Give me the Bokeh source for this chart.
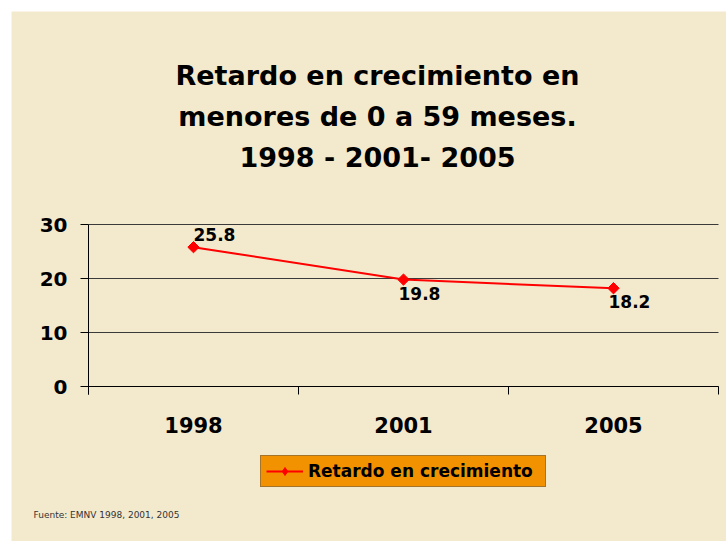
from bokeh.plotting import figure
from bokeh.models import (Range1d, FixedTicker, Label, Legend, LegendItem, Spacer)
from bokeh.layouts import column, row
from bokeh.embed import file_html
from bokeh.resources import INLINE
import math

# ---- data ----
years = ["1998", "2001", "2005"]
retardo = [25.8, 19.8, 18.2]
y_ticks = [0, 10, 20, 30]
series_name = "Retardo en crecimiento"
title_lines = ["Retardo en crecimiento en", "menores de 0 a 59 meses.", "1998 - 2001- 2005"]
source_note = "Fuente: EMNV 1998, 2001, 2005"

BG = "#F3E9CD"
FONT = "DejaVu Sans"

# ---- geometry (canvas pixels) ----
W, H = 715, 530
PLOT_L, PLOT_R = 77, 707          # x of first / last category boundary
PLOT_T, PLOT_B = 213, 375         # y (from top) of 30 and 0
n = len(years)
ymax = y_ticks[-1]
px_x = (PLOT_R - PLOT_L) / n
px_y = (PLOT_B - PLOT_T) / ymax

xs = [i + 0.5 for i in range(n)]

p = figure(width=W, height=H, output_backend="svg", toolbar_location=None,
           x_range=Range1d(-PLOT_L / px_x, n + (W - PLOT_R) / px_x),
           y_range=Range1d(-(H - PLOT_B) / px_y, ymax + PLOT_T / px_y),
           min_border=0, min_border_left=0, min_border_right=0,
           min_border_top=0, min_border_bottom=0)
p.background_fill_color = BG
p.border_fill_color = BG
p.outline_line_color = None
p.title.text = ""
p.title.visible = False
p.xgrid.visible = False
p.ygrid.visible = False

# horizontal gridlines across the category span
p.segment(x0=[0] * len(y_ticks), x1=[n] * len(y_ticks), y0=y_ticks, y1=y_ticks,
          line_color="#3a3a3a", line_width=1)

# series
line_r = p.line(xs, retardo, line_color="#FF0000", line_width=2)
pts_r = p.scatter(xs, retardo, marker="square", size=8, angle=math.pi / 4,
                  fill_color="#FF0000", line_color="#FF0000")
# diamond glyph used only for the legend swatch
legend_pts = p.scatter(xs, retardo, marker="diamond", size=18,
                       fill_color="#FF0000", line_color="#FF0000", visible=False)

# value labels
placement = ["above", "below", "below"]
for x, v, pl in zip(xs, retardo, placement):
    lab = Label(x=x, y=v, text=f"{v:.1f}", text_font=FONT, text_font_size="17px",
                text_font_style="bold", text_color="black")
    if pl == "above":
        lab.text_baseline = "bottom"
        lab.x_offset = 0
        lab.y_offset = 6
    else:
        lab.text_baseline = "top"
        lab.x_offset = -5
        lab.y_offset = -7
    p.add_layout(lab)

# x axis (at y = 0)
xa = p.xaxis[0]
xa.fixed_location = 0
xa.bounds = (0, n)
xa.ticker = FixedTicker(ticks=xs, minor_ticks=list(range(n + 1)))
xa.major_label_overrides = {x: y for x, y in zip(xs, years)}
xa.major_tick_line_color = None
xa.major_tick_out = 0
xa.major_tick_in = 0
xa.minor_tick_out = 8
xa.minor_tick_in = 0
xa.minor_tick_line_color = "black"
xa.axis_line_color = "black"
xa.major_label_standoff = 22
xa.major_label_text_font = FONT
xa.major_label_text_font_size = "21px"
xa.major_label_text_font_style = "bold"
xa.major_label_text_color = "black"

# y axis (at x = 0)
ya = p.yaxis[0]
ya.fixed_location = 0
ya.bounds = (-8 / px_y, ymax)
ya.ticker = FixedTicker(ticks=y_ticks)
ya.major_tick_out = 8
ya.major_tick_in = 0
ya.minor_tick_line_color = None
ya.major_tick_line_color = "black"
ya.axis_line_color = "black"
ya.major_label_standoff = 13
ya.major_label_text_font = FONT
ya.major_label_text_font_size = "20px"
ya.major_label_text_font_style = "bold"
ya.major_label_text_color = "black"

# title (three centred lines)
title_cx = 366
title_baselines = [466, 425, 384]
for t, yb in zip(title_lines, title_baselines):
    p.add_layout(Label(x=title_cx, y=yb, x_units="screen", y_units="screen", text=t,
                       text_align="center", text_baseline="alphabetic", text_font=FONT,
                       text_font_size="27px", text_font_style="bold", text_color="black"))

# legend
legend = Legend(items=[LegendItem(label=series_name, renderers=[line_r, legend_pts])],
                location=(249, 54), orientation="vertical",
                background_fill_color="#F39200", background_fill_alpha=1,
                border_line_color="#555555", border_line_width=1,
                label_text_font=FONT, label_text_font_size="17px",
                label_text_font_style="bold", label_text_color="black",
                glyph_width=37, glyph_height=20, padding=5, label_standoff=5,
                label_width=232, margin=0)
p.add_layout(legend, "center")

# source note
p.add_layout(Label(x=22, y=22, x_units="screen", y_units="screen", text=source_note,
                   text_font=FONT, text_font_size="9px", text_color="#333333"))

layout = column(Spacer(height=11), row(Spacer(width=11), p))
open("out.html", "w").write(file_html(layout, INLINE))
